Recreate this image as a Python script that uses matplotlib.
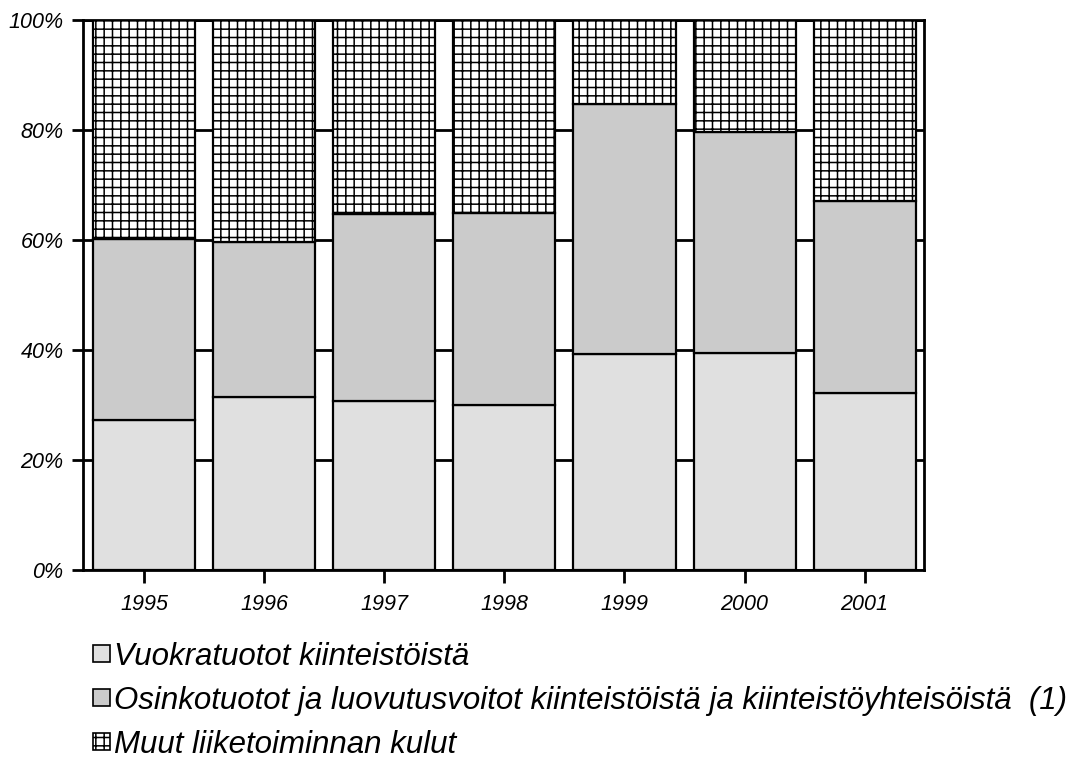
import numpy as np
import matplotlib
matplotlib.use('Agg')
import matplotlib.pyplot as plt
from matplotlib.patches import Patch

years = ['1995', '1996', '1997', '1998', '1999', '2000', '2001']
# shares in percent
vuokra = [27.3, 31.5, 30.7, 30.0, 39.3, 39.5, 32.2]
osinko = [32.9, 28.2, 34.0, 34.9, 45.4, 40.2, 34.8]
muut = [39.8, 40.3, 35.3, 35.1, 15.3, 20.3, 33.0]

labels = ['Vuokratuotot kiinteistöistä',
          'Osinkotuotot ja luovutusvoitot kiinteistöistä ja kiinteistöyhteisöistä  (1)',
          'Muut liiketoiminnan kulut']
yticks = [0, 20, 40, 60, 80, 100]

plt.rcParams['font.family'] = ['Liberation Sans', 'DejaVu Sans']
plt.rcParams['font.style'] = 'italic'
plt.rcParams['hatch.linewidth'] = 1.1

fig = plt.figure(figsize=(10.69, 7.74), dpi=100)
ax = fig.add_axes([0.0776, 0.2636, 0.7868, 0.7106])

x = np.arange(len(years))
w = 0.85
c1 = '#e0e0e0'
c2 = '#cbcbcb'

ax.bar(x, vuokra, w, color=c1, edgecolor='black', linewidth=1.6, zorder=3)
ax.bar(x, osinko, w, bottom=vuokra, color=c2, edgecolor='black', linewidth=1.6, zorder=3)
bot = np.array(vuokra) + np.array(osinko)
ax.bar(x, muut, w, bottom=bot, color='white', edgecolor='black', hatch='++', linewidth=1.6, zorder=3)

ax.set_xlim(-0.5125, 6.496)
ax.set_ylim(0, 100)
ax.set_yticks(yticks)
ax.set_yticklabels([f'{v}%' for v in yticks], fontsize=15.5)
ax.set_xticks(x)
ax.set_xticklabels(years, fontsize=15.5)
ax.yaxis.grid(True, color='black', linewidth=2, zorder=0)
ax.set_axisbelow(True)
ax.tick_params(axis='y', direction='out', length=8, width=2, pad=6)
ax.tick_params(axis='x', direction='out', length=9, width=2, pad=8)
for s in ax.spines.values():
    s.set_linewidth(2)

handles = [Patch(facecolor=c1, edgecolor='black', linewidth=1.2),
           Patch(facecolor=c2, edgecolor='black', linewidth=1.2),
           Patch(facecolor='white', edgecolor='black', hatch='++', linewidth=1.2)]
fig.legend(handles, labels, loc='upper left', bbox_to_anchor=(0.087, 0.171),
           frameon=False, fontsize=22.5, handlelength=0.55, handleheight=0.45,
           handletextpad=0.12, labelspacing=0.45, borderaxespad=0, borderpad=0)

fig.savefig('out.png', dpi=100)
